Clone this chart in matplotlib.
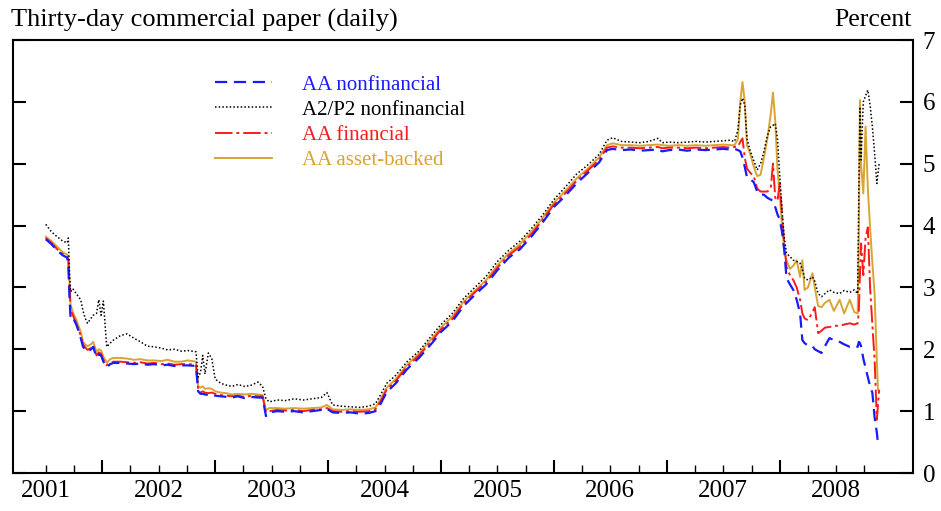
#!/usr/bin/env python3
"""Thirty-day commercial paper rates (daily), mid-2001 to late 2008."""

import matplotlib
matplotlib.use("Agg")
import matplotlib.pyplot as plt
import numpy as np

# ── Data (x in decimal years, y in percent) ──
dates = [
    # 2001 - early 2003
    2001.50, 2001.55, 2001.60, 2001.65, 2001.69, 2001.70, 2001.71, 2001.72, 2001.74, 2001.77,
    2001.79, 2001.81, 2001.83, 2001.85, 2001.87, 2001.90, 2001.92, 2001.95, 2001.97, 2001.99,
    2002.01, 2002.03, 2002.04, 2002.07, 2002.10, 2002.16, 2002.22, 2002.28, 2002.34, 2002.40,
    2002.46, 2002.52, 2002.58, 2002.64, 2002.70, 2002.76, 2002.83, 2002.85, 2002.87, 2002.89,
    2002.91, 2002.94, 2002.97, 2003.00, 2003.05,
    # 2003 - mid 2004
    2003.10, 2003.15, 2003.20, 2003.26, 2003.32, 2003.38, 2003.42, 2003.45, 2003.48, 2003.55,
    2003.62, 2003.70, 2003.78, 2003.86, 2003.94, 2003.99, 2004.04, 2004.12, 2004.20, 2004.28,
    2004.36, 2004.42,
    # tightening 2004 - 2006
    2004.46, 2004.52, 2004.60, 2004.70, 2004.81, 2004.93, 2005.00, 2005.10, 2005.20, 2005.30,
    2005.40, 2005.50, 2005.60, 2005.70, 2005.80, 2005.90, 2006.00, 2006.10, 2006.20, 2006.30,
    2006.40, 2006.47,
    # plateau
    2006.52, 2006.60, 2006.68, 2006.76, 2006.84, 2006.92, 2006.96, 2007.02, 2007.10, 2007.18,
    2007.26, 2007.34, 2007.42, 2007.50, 2007.56,
    # turmoil 2007 - 2008
    2007.60, 2007.63, 2007.65, 2007.67, 2007.69, 2007.71, 2007.74, 2007.77, 2007.80, 2007.83,
    2007.86, 2007.89, 2007.92, 2007.94, 2007.96, 2007.98, 2008.00, 2008.02, 2008.04, 2008.06,
    2008.09, 2008.12, 2008.15, 2008.18, 2008.20, 2008.22, 2008.25, 2008.29, 2008.31, 2008.34,
    2008.37, 2008.40, 2008.44, 2008.48, 2008.53, 2008.57, 2008.62, 2008.66, 2008.69, 2008.70,
    2008.71, 2008.72, 2008.74, 2008.76, 2008.78, 2008.80, 2008.82, 2008.84, 2008.86, 2008.87,
    2008.88,
]

aa_nonfinancial = [
    3.78, 3.70, 3.60, 3.52, 3.48, 3.35, 2.85, 2.50, 2.52, 2.40,
    2.30, 2.18, 2.04, 2.00, 1.96, 2.00, 2.04, 1.87, 1.92, 1.90,
    1.80, 1.75, 1.71, 1.76, 1.78, 1.78, 1.77, 1.76, 1.77, 1.75,
    1.76, 1.74, 1.75, 1.73, 1.74, 1.74, 1.73, 1.32, 1.28, 1.28,
    1.27, 1.26, 1.27, 1.25, 1.24,
    1.23, 1.22, 1.24, 1.21, 1.23, 1.22, 1.22, 0.92, 0.98, 1.00,
    0.99, 1.00, 0.98, 1.00, 1.02, 1.04, 0.98, 0.97, 0.98, 0.96,
    0.97, 1.00,
    1.10, 1.31, 1.45, 1.68, 1.87, 2.12, 2.28, 2.45, 2.70, 2.88,
    3.05, 3.28, 3.48, 3.62, 3.82, 4.05, 4.30, 4.48, 4.68, 4.85,
    5.02, 5.22,
    5.24, 5.22, 5.23, 5.21, 5.22, 5.23, 5.20, 5.22, 5.23, 5.21,
    5.23, 5.22, 5.23, 5.24, 5.23,
    5.24, 5.22, 5.20, 5.10, 4.95, 4.78, 4.75, 4.70, 4.55, 4.50,
    4.50, 4.45, 4.42, 4.40, 4.30, 4.18, 4.10, 3.90, 3.60, 3.15,
    3.05, 2.96, 2.80, 2.58, 2.15, 2.10, 2.06, 2.05, 2.00, 1.97,
    1.94, 2.05, 2.18, 2.15, 2.12, 2.08, 2.04, 2.05, 2.04, 2.12,
    2.10, 2.05, 1.85, 1.70, 1.55, 1.40, 1.30, 0.90, 0.65, 0.48,
    np.nan,
]

a2p2_nonfinancial = [
    4.02, 3.90, 3.82, 3.75, 3.72, 3.80, 3.25, 2.93, 2.98, 2.90,
    2.85, 2.80, 2.62, 2.50, 2.42, 2.50, 2.55, 2.58, 2.80, 2.55,
    2.78, 2.30, 2.04, 2.10, 2.15, 2.22, 2.25, 2.18, 2.12, 2.05,
    2.04, 2.02, 1.99, 2.00, 1.97, 1.98, 1.96, 1.55, 1.62, 1.90,
    1.60, 1.94, 1.85, 1.52, 1.45,
    1.42, 1.40, 1.43, 1.40, 1.42, 1.47, 1.40, 1.20, 1.15, 1.18,
    1.17, 1.20, 1.18, 1.20, 1.22, 1.30, 1.10, 1.08, 1.07, 1.06,
    1.08, 1.12,
    1.25, 1.45, 1.58, 1.80, 1.98, 2.25, 2.40, 2.58, 2.82, 3.00,
    3.18, 3.42, 3.60, 3.75, 3.95, 4.17, 4.42, 4.62, 4.83, 4.98,
    5.15, 5.38,
    5.42, 5.36, 5.35, 5.34, 5.36, 5.41, 5.34, 5.35, 5.34, 5.35,
    5.36, 5.35, 5.36, 5.37, 5.38,
    5.36, 5.55, 5.95, 6.06, 5.95, 5.40, 5.20, 5.05, 4.90, 5.00,
    5.20, 5.45, 5.60, 5.62, 5.65, 5.40, 4.80, 4.25, 3.80, 3.55,
    3.50, 3.44, 3.42, 3.39, 3.30, 3.15, 3.12, 3.17, 3.10, 2.90,
    2.85, 2.90, 2.96, 2.92, 2.90, 2.95, 2.92, 2.96, 2.90, 4.50,
    5.92, 5.06, 6.00, 6.10, 6.19, 5.95, 5.60, 5.17, 4.68, 4.85,
    5.00,
]

aa_financial = [
    3.80, 3.72, 3.62, 3.54, 3.50, 3.45, 3.00, 2.65, 2.55, 2.42,
    2.32, 2.22, 2.08, 2.03, 1.99, 2.02, 2.06, 1.90, 1.95, 1.93,
    1.83, 1.78, 1.74, 1.78, 1.80, 1.80, 1.79, 1.78, 1.79, 1.77,
    1.78, 1.76, 1.77, 1.75, 1.76, 1.76, 1.75, 1.35, 1.30, 1.32,
    1.30, 1.29, 1.30, 1.28, 1.26,
    1.25, 1.24, 1.25, 1.23, 1.25, 1.24, 1.24, 0.98, 1.00, 1.02,
    1.01, 1.02, 1.00, 1.02, 1.03, 1.05, 1.00, 0.99, 1.00, 0.99,
    1.00, 1.03,
    1.14, 1.35, 1.49, 1.72, 1.91, 2.16, 2.32, 2.49, 2.74, 2.92,
    3.09, 3.32, 3.52, 3.66, 3.86, 4.09, 4.34, 4.52, 4.72, 4.89,
    5.06, 5.26,
    5.28, 5.26, 5.26, 5.25, 5.26, 5.27, 5.25, 5.26, 5.26, 5.25,
    5.26, 5.25, 5.26, 5.27, 5.26,
    5.27, 5.28, 5.35, 5.41, 5.10, 4.92, 4.85, 4.80, 4.60, 4.55,
    4.55, 4.55, 4.60, 5.00, 4.45, 4.40, 4.68, 4.20, 3.70, 3.33,
    3.20, 3.12, 3.00, 2.80, 2.58, 2.50, 2.47, 2.60, 2.68, 2.26,
    2.30, 2.35, 2.36, 2.38, 2.38, 2.40, 2.42, 2.40, 2.42, 2.60,
    3.20, 3.71, 3.20, 3.80, 3.97, 3.00, 2.40, 1.83, 0.86, 1.10,
    1.34,
]

aa_asset_backed = [
    3.82, 3.75, 3.66, 3.57, 3.53, 3.50, 3.10, 2.72, 2.60, 2.48,
    2.38, 2.28, 2.12, 2.08, 2.05, 2.08, 2.12, 1.96, 2.00, 1.98,
    1.88, 1.82, 1.78, 1.84, 1.86, 1.86, 1.85, 1.83, 1.84, 1.82,
    1.82, 1.81, 1.83, 1.80, 1.80, 1.82, 1.80, 1.40, 1.38, 1.40,
    1.36, 1.37, 1.36, 1.32, 1.30,
    1.29, 1.27, 1.28, 1.27, 1.28, 1.27, 1.26, 1.02, 1.05, 1.05,
    1.04, 1.05, 1.04, 1.05, 1.06, 1.10, 1.03, 1.02, 1.03, 1.02,
    1.03, 1.06,
    1.18, 1.38, 1.52, 1.75, 1.94, 2.20, 2.35, 2.53, 2.77, 2.95,
    3.12, 3.36, 3.55, 3.70, 3.90, 4.12, 4.37, 4.56, 4.76, 4.92,
    5.10, 5.30,
    5.33, 5.30, 5.30, 5.29, 5.30, 5.31, 5.30, 5.29, 5.30, 5.29,
    5.30, 5.29, 5.30, 5.31, 5.30,
    5.30, 5.40, 6.00, 6.32, 6.00, 5.30, 5.15, 4.95, 4.80, 4.82,
    5.10, 5.40, 5.80, 6.15, 5.70, 4.90, 4.50, 4.00, 3.60, 3.44,
    3.30, 3.35, 3.44, 3.17, 3.44, 2.96, 3.00, 3.23, 3.00, 2.70,
    2.68, 2.75, 2.80, 2.62, 2.80, 2.58, 2.80, 2.60, 2.58, 3.80,
    6.03, 5.00, 4.52, 5.60, 4.60, 3.97, 3.40, 2.90, 1.80, 1.34,
    1.34,
]

years = [2001, 2002, 2003, 2004, 2005, 2006, 2007, 2008]
y_ticks = [0, 1, 2, 3, 4, 5, 6, 7]

# ── Style ──
plt.rcParams["font.family"] = ["Liberation Serif", "DejaVu Serif"]

BLUE = "#1a1aff"
RED = "#ff1a1a"
GOLD = "#d9a532"

fig = plt.figure(figsize=(9.41, 5.11), dpi=100)
ax = fig.add_axes([13 / 941, 38 / 511, 900 / 941, 433 / 511])

l_abcp, = ax.plot(dates, aa_asset_backed, '-', color=GOLD, lw=1.4, label='AA asset-backed')
l_fin, = ax.plot(dates, aa_financial, color=RED, lw=1.4, dashes=(9, 2, 1.5, 2),
                 label='AA financial')
l_nonfin, = ax.plot(dates, aa_nonfinancial, color=BLUE, lw=1.6, dashes=(5.5, 3),
                    label='AA nonfinancial')
l_a2p2, = ax.plot(dates, a2p2_nonfinancial, color='black', lw=1.1, dashes=(1, 1.4),
                  label='A2/P2 nonfinancial')

ax.set_xlim(2001.21, 2009.18)
ax.set_ylim(0, 7)

# year boundaries as major ticks, quarters as minor ticks, labels at mid-year
ax.set_xticks(years[1:])
ax.set_xticklabels([])
minor = [y + q for y in years for q in (0.25, 0.5, 0.75) if y + q > 2001.3]
ax.set_xticks(minor, minor=True)
ax.set_xticklabels([str(int(m)) if m % 1 == 0.5 else '' for m in minor], minor=True)
ax.tick_params(axis='x', which='major', direction='in', length=9.5, width=1.5, top=False)
ax.tick_params(axis='x', which='minor', direction='in', length=5.5, width=1.0,
               top=False, labelsize=18, pad=5)

ax.set_yticks(y_ticks)
ax.tick_params(axis='y', which='major', direction='in', left=True, right=True,
               labelleft=False, labelright=True, length=9.5, width=1.5,
               labelsize=18, pad=7)

for sp in ax.spines.values():
    sp.set_linewidth(1.5)

leg = ax.legend(handles=[l_nonfin, l_a2p2, l_fin, l_abcp], loc='upper left',
                bbox_to_anchor=((215 - 13) / 900, (473 - 75) / 433),
                frameon=False, fontsize=15, handlelength=2.75, handletextpad=1.45,
                labelspacing=0.27, borderpad=0, borderaxespad=0, labelcolor='linecolor')

fig.text(11 / 941, 1 - 27 / 511, 'Thirty-day commercial paper (daily)',
         fontsize=19, ha='left', va='baseline')
fig.text(912 / 941, 1 - 26 / 511, 'Percent', fontsize=18.5, ha='right', va='baseline')

fig.savefig("out.png", dpi=100)
